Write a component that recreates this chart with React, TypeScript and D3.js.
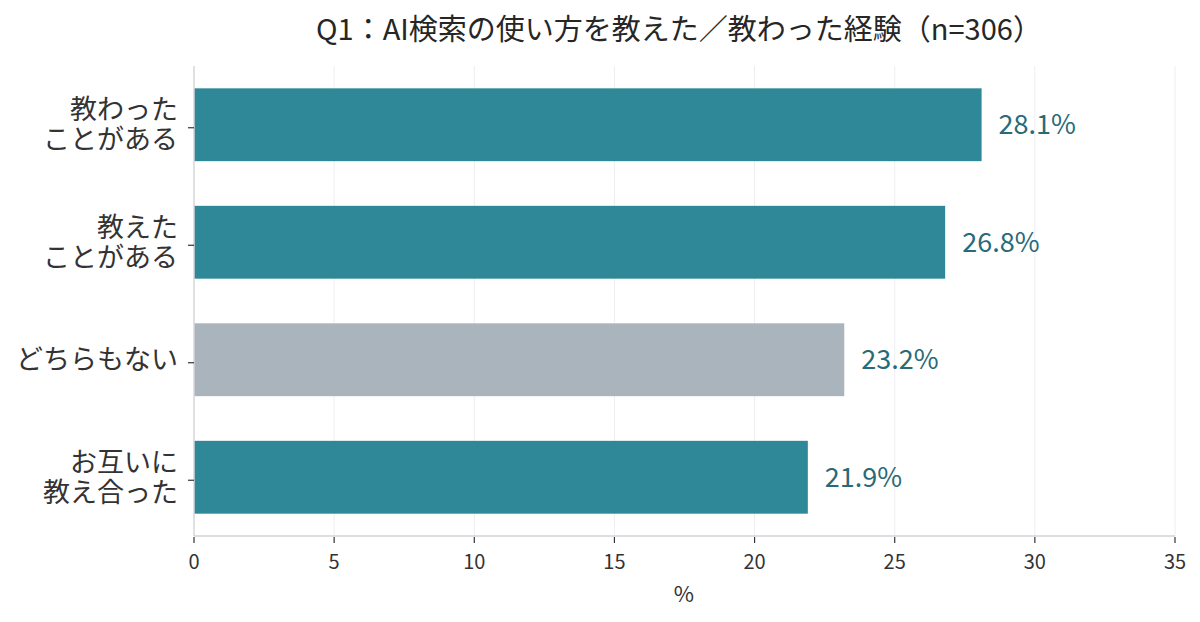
import React from 'react';
import * as d3 from 'd3';

const categories = [['教わった', 'ことがある'], ['教えた', 'ことがある'], ['どちらもない'], ['お互いに', '教え合った']];
const values = [28.1, 26.8, 23.2, 21.9];
const barColors = ['#2e8897', '#2e8897', '#aab4bc', '#2e8897'];
const xTicks = [0, 5, 10, 15, 20, 25, 30, 35];

const W = 1200;
const H = 622;
const FONT = '"Noto Sans CJK JP", "Noto Sans", sans-serif';

const App: React.FC = () => {
  const x = d3.scaleLinear().domain([0, 35]).range([194, 1175]);
  const y = d3.scaleBand<number>()
    .domain(d3.range(values.length))
    .range([66, 536])
    .paddingInner(0.38)
    .paddingOuter(0.19);

  return (
    <svg width={W} height={H} viewBox={`0 0 ${W} ${H}`}
      style={{ position: 'absolute', left: 0, top: 0, background: '#fff', fontFamily: FONT }}>
      <text x={679} y={40} textAnchor="middle" fontSize={29} fill="#262626">
        Q1：AI検索の使い方を教えた／教わった経験（n=306）
      </text>

      {/* grid */}
      {xTicks.slice(1).map(t => (
        <line key={t} x1={x(t)} x2={x(t)} y1={66} y2={536} stroke="#efecf2" strokeWidth={1} />
      ))}

      {/* bars */}
      {values.map((v, i) => (
        <g key={i}>
          <rect x={x(0)} y={y(i)} width={x(v) - x(0)} height={y.bandwidth()} fill={barColors[i]} />
          <text x={x(v) + 17} y={(y(i) ?? 0) + y.bandwidth() / 2} dy="0.35em"
            fontSize={27} fill="#2a6a78">{v.toFixed(1)}%</text>
        </g>
      ))}

      {/* spines */}
      <line x1={x(0)} x2={x(0)} y1={66} y2={536} stroke="#d6d6dc" strokeWidth={1.5} />
      <line x1={x(0)} x2={x(35)} y1={536} y2={536} stroke="#d6d0d8" strokeWidth={1.5} />

      {/* y ticks + labels */}
      {categories.map((lines, i) => {
        const cy = (y(i) ?? 0) + y.bandwidth() / 2;
        return (
          <g key={i}>
            <line x1={x(0) - 6} x2={x(0)} y1={cy + 3} y2={cy + 3} stroke="#333" strokeWidth={1.2} />
            {lines.map((s, j) => (
              <text key={j} x={178} y={cy + (j - (lines.length - 1) / 2) * 30} dy="0.35em"
                textAnchor="end" fontSize={27} fill="#333">{s}</text>
            ))}
          </g>
        );
      })}

      {/* x ticks */}
      {xTicks.map(t => (
        <g key={t}>
          <line x1={x(t)} x2={x(t)} y1={537} y2={543} stroke="#333" strokeWidth={1.2} />
          <text x={x(t)} y={562} dy="0.35em" textAnchor="middle" fontSize={20} fill="#333">{t}</text>
        </g>
      ))}
      <text x={684} y={594} dy="0.35em" textAnchor="middle" fontSize={22} fill="#333">%</text>
    </svg>
  );
};

export default App;
